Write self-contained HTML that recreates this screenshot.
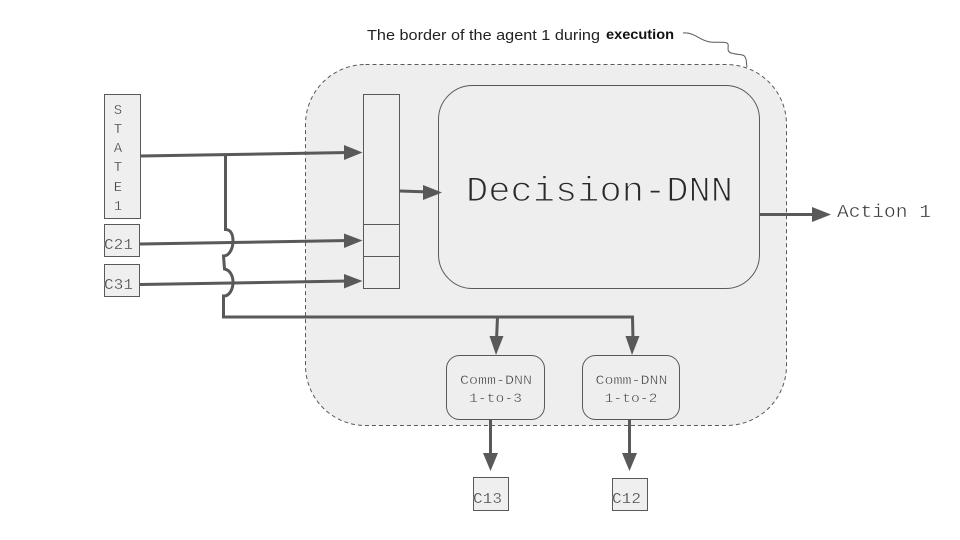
<!DOCTYPE html>
<html>
<head>
<meta charset="utf-8">
<style>
html,body{margin:0;padding:0;background:#fff;width:960px;height:540px;overflow:hidden}
svg{display:block}
.m{font-family:"Liberation Mono",monospace;fill:#3c3c3c;stroke:#efefef;stroke-width:.35px}
.w{stroke:#fff}
.box{fill:#efefef;stroke:#595959;stroke-width:1}
.ln{fill:none;stroke:#595959;stroke-width:3}
.ah{fill:#595959}
</style>
</head>
<body>
<svg width="960" height="540" viewBox="0 0 960 540" xmlns="http://www.w3.org/2000/svg">
<rect x="305.500" y="64.500" width="481" height="361" rx="60" ry="60" fill="#eeeeee" stroke="#595959" stroke-width="1" stroke-dasharray="4 3"/>
<rect x="438.500" y="85.500" width="321" height="203" rx="34" ry="34" fill="#eeeeee" stroke="#595959" stroke-width="1"/>
<rect x="363.500" y="94.500" width="36" height="194" fill="#eeeeee" stroke="#595959" stroke-width="1"/>
<path d="M363.500 224.500H399.500M363.500 256.500H399.500" stroke="#595959" stroke-width="1" fill="none"/>
<rect class="box" x="104.500" y="94.500" width="36" height="124"/>
<rect class="box" x="104.500" y="224.500" width="35" height="32"/>
<rect class="box" x="104.500" y="264.500" width="35" height="32"/>
<rect class="box" x="473.500" y="477.500" width="35" height="33"/>
<rect class="box" x="612.500" y="478.500" width="35" height="32"/>
<rect x="446.500" y="355.500" width="98" height="64" rx="13" ry="13" fill="#eeeeee" stroke="#595959" stroke-width="1"/>
<rect x="582.500" y="355.500" width="97" height="64" rx="13" ry="13" fill="#eeeeee" stroke="#595959" stroke-width="1"/>

<path class="ln" d="M140 156L349 152.500"/>
<path class="ah" d="M344 145L362.500 152.500L344 160Z"/>
<path class="ln" d="M140 244L349 240.500"/>
<path class="ah" d="M344 233.500L362.500 240.500L344 248Z"/>
<path class="ln" d="M140 284.500L349 281"/>
<path class="ah" d="M344 274L362.500 281L344 288.500Z"/>
<path class="ln" d="M400 191L430 192"/>
<path class="ah" d="M423 185L442 192.500L423 200Z"/>
<path class="ln" d="M760 214.500H815"/>
<path class="ah" d="M812 207L831 214.500L812 222Z"/>
<path class="ln" d="M225.500 155V229.500C231 229.500 233 235 233 241C233 249 229 256 223.500 256L224.500 269C230 270 233 276 233 282C233 290 229 296 224 296H223.500V317H632.500L633 340"/>
<path class="ln" d="M497.500 317L496.500 340"/>
<path class="ah" d="M489.500 336L503.500 336L496 355Z"/>
<path class="ah" d="M625.500 336L639.500 336L632 355Z"/>
<path class="ln" d="M490.500 420V456"/>
<path class="ah" d="M483 453L498 453L490.500 471Z"/>
<path class="ln" d="M629.500 420V456"/>
<path class="ah" d="M622 453L637 453L629.500 471Z"/>

<path d="M683 33C695 32 700 41 710 42C718 43 726 41 728 44C729 47 726 51 731 53C738 55 744 54 745 57C747 60 746 63 747 67" fill="none" stroke="#595959" stroke-width="1"/>

<text x="367" y="40" font-family="'Liberation Sans',sans-serif" font-size="15" fill="#222" textLength="233" lengthAdjust="spacingAndGlyphs">The border of the agent 1 during</text>
<text x="606" y="39" font-family="'Liberation Sans',sans-serif" font-size="14" font-weight="bold" fill="#111" textLength="68" lengthAdjust="spacingAndGlyphs">execution</text>

<text class="m" x="466" y="201" font-size="35" textLength="267" lengthAdjust="spacingAndGlyphs" style="stroke-width:1.1px;fill:#2a2a2a">Decision-DNN</text>
<text class="m w" x="837" y="217" font-size="18" textLength="94" lengthAdjust="spacingAndGlyphs">Action 1</text>

<g font-size="14" text-anchor="middle">
<text class="m" x="118" y="114">S</text>
<text class="m" x="118" y="133">T</text>
<text class="m" x="118" y="152">A</text>
<text class="m" x="118" y="171">T</text>
<text class="m" x="118" y="191">E</text>
<text class="m" x="118" y="210">1</text>
</g>
<text class="m" x="104" y="249" font-size="15" textLength="29" lengthAdjust="spacingAndGlyphs">C21</text>
<text class="m" x="104" y="289" font-size="15" textLength="29" lengthAdjust="spacingAndGlyphs">C31</text>
<text class="m" x="473" y="503" font-size="15" textLength="29" lengthAdjust="spacingAndGlyphs">C13</text>
<text class="m" x="612" y="503" font-size="15" textLength="29" lengthAdjust="spacingAndGlyphs">C12</text>

<text class="m" x="460" y="384" font-size="12.500" textLength="72" lengthAdjust="spacingAndGlyphs">Comm-DNN</text>
<text class="m" x="469" y="402" font-size="12.500" textLength="53" lengthAdjust="spacingAndGlyphs">1-to-3</text>
<text class="m" x="595.500" y="384" font-size="12.500" textLength="72" lengthAdjust="spacingAndGlyphs">Comm-DNN</text>
<text class="m" x="604.500" y="402" font-size="12.500" textLength="53" lengthAdjust="spacingAndGlyphs">1-to-2</text>
</svg>
</body>
</html>
